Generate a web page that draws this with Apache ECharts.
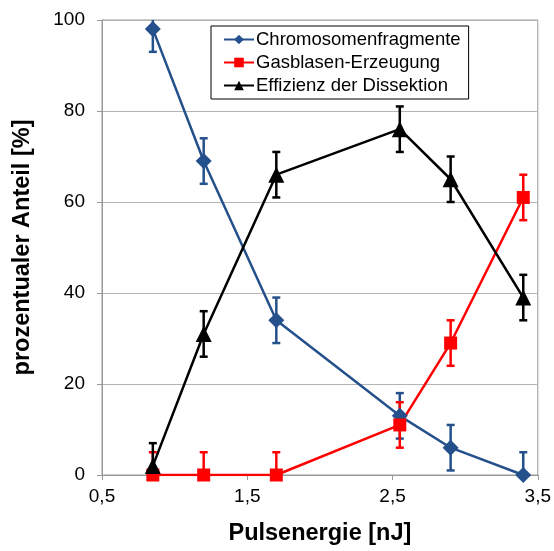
<!DOCTYPE html>
<html><head><meta charset="utf-8">
<script src="https://cdn.jsdelivr.net/npm/echarts@6/dist/echarts.min.js"></script>
<style>html,body{margin:0;padding:0;background:#fff}#c{width:554px;height:551px}</style>
</head><body><div id="c"></div>
<script>
const energy = [0.85, 1.2, 1.7, 2.55, 2.9, 3.4];
const chromosomen = [98, 69, 34, 13, 6, 0];
const gasblasen = [0, 0, 0, 11, 29, 61];
const effizienz = [2, 31, 66, 76, 65, 39];
const errChrom = [5, 5, 5, 5, 5, 5];
const errGas = [5, 5, 5, 5, 5, 5];
const errEff = [5, 5, 5, 5, 5, 5];
const xTicks = [0.5, 1.5, 2.5, 3.5];
const yTicks = [0, 20, 40, 60, 80, 100];

const FONT = 'Liberation Sans, Arial, sans-serif';
const yMin = yTicks[0], yMax = yTicks[yTicks.length - 1];
const pairs = (ys) => energy.map((x, i) => [x, ys[i]]);
// [x, low, high, value, lowCap(1/0), highCap(1/0)]
const errData = (ys, es) => energy.map((x, i) => {
  const lo = ys[i] - es[i], hi = ys[i] + es[i];
  return [x, Math.max(yMin, lo), Math.min(yMax, hi), ys[i], lo >= yMin ? 1 : 0, hi <= yMax ? 1 : 0];
});

function errSeries(ys, es, color) {
  return {
    type: 'custom', silent: true, z: 1,
    data: errData(ys, es),
    encode: { x: 0, y: [1, 2] },
    renderItem: function (params, api) {
      const x = api.value(0);
      const lo = api.coord([x, api.value(1)]);
      const hi = api.coord([x, api.value(2)]);
      const hw = 4;
      const st = { stroke: color, lineWidth: 2.5 };
      const ch = [{ type: 'line', shape: { x1: lo[0], y1: lo[1], x2: hi[0], y2: hi[1] }, style: st }];
      if (api.value(4)) ch.push({ type: 'line', shape: { x1: lo[0] - hw, y1: lo[1], x2: lo[0] + hw, y2: lo[1] }, style: st });
      if (api.value(5)) ch.push({ type: 'line', shape: { x1: hi[0] - hw, y1: hi[1], x2: hi[0] + hw, y2: hi[1] }, style: st });
      return { type: 'group', children: ch };
    }
  };
}

const chart = echarts.init(document.getElementById('c'));
chart.setOption({
  animation: false,
  backgroundColor: '#fff',
  grid: { left: 102, right: 16, top: 20, bottom: 74, show: true, borderColor: '#999', borderWidth: 1 },
  legend: {
    orient: 'vertical', left: 211, top: 26, padding: [4, 8, 4, 12], itemGap: 4,
    borderColor: '#000', borderWidth: 1, itemWidth: 30, itemHeight: 12,
    textStyle: { fontFamily: FONT, fontSize: 18.5, color: '#000', padding: [0, 0, 0, -3] },
    data: ['Chromosomenfragmente', 'Gasblasen-Erzeugung', 'Effizienz der Dissektion']
  },
  xAxis: {
    type: 'value', min: xTicks[0], max: xTicks[xTicks.length - 1], interval: 1,
    name: 'Pulsenergie [nJ]', nameLocation: 'middle', nameGap: 47,
    nameTextStyle: { fontFamily: FONT, fontSize: 23.5, fontWeight: 'bold', color: '#000' },
    axisLine: { lineStyle: { color: '#999', width: 1 } },
    axisTick: { show: true, length: 5, lineStyle: { color: '#999' } },
    axisLabel: { fontFamily: FONT, fontSize: 19, color: '#000', margin: 12,
      formatter: v => v.toFixed(1).replace('.', ',') },
    splitLine: { show: false }
  },
  yAxis: {
    type: 'value', min: yMin, max: yMax, interval: 20,
    name: 'prozentualer Anteil [%]', nameLocation: 'middle', nameGap: 67, nameRotate: 90,
    nameTextStyle: { fontFamily: FONT, fontSize: 23.5, fontWeight: 'bold', color: '#000' },
    axisLine: { show: true, lineStyle: { color: '#999', width: 1 } },
    axisTick: { show: true, length: 5, lineStyle: { color: '#999' } },
    axisLabel: { fontFamily: FONT, fontSize: 19, color: '#000', margin: 17 },
    splitLine: { show: true, lineStyle: { color: '#b4b4b4', width: 1 } }
  },
  series: [
    errSeries(chromosomen, errChrom, '#24508c'),
    errSeries(gasblasen, errGas, '#ff0000'),
    errSeries(effizienz, errEff, '#000000'),
    { name: 'Chromosomenfragmente', type: 'line', data: pairs(chromosomen), z: 3,
      symbol: 'diamond', symbolSize: 16, color: '#24508c',
      lineStyle: { color: '#24508c', width: 2.5 }, itemStyle: { color: '#24508c' } },
    { name: 'Gasblasen-Erzeugung', type: 'line', data: pairs(gasblasen), z: 3,
      symbol: 'rect', symbolSize: 13, color: '#ff0000',
      lineStyle: { color: '#ff0000', width: 2.5 }, itemStyle: { color: '#ff0000' } },
    { name: 'Effizienz der Dissektion', type: 'line', data: pairs(effizienz), z: 3,
      symbol: 'triangle', symbolSize: 16, color: '#000',
      lineStyle: { color: '#000', width: 2.5 }, itemStyle: { color: '#000' } }
  ]
});
</script></body></html>
